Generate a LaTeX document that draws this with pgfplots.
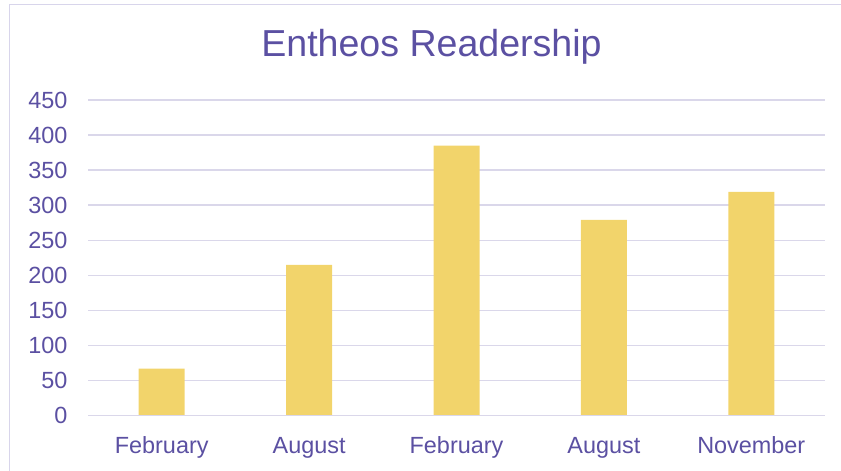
\documentclass[border=0pt]{standalone}
\usepackage{pgfplots}
\pgfplotsset{compat=1.18}
\usepackage{fontspec}
\setmainfont{Liberation Sans}
\definecolor{txt}{HTML}{5B50A2}
\definecolor{gridc}{HTML}{DAD7EA}
\definecolor{barc}{HTML}{F2D46B}
\definecolor{bord}{HTML}{D8D5EB}
\begin{document}
\begin{tikzpicture}[x=1bp,y=1bp]
\path[use as bounding box] (0,0) rectangle (841,471);
\draw[bord,line width=1.5bp] (9.5,0) -- (9.5,466.5) -- (841,466.5);
\begin{axis}[
  at={(88bp,55.5bp)}, anchor=south west,
  scale only axis, width=737bp, height=315.5bp,
  xmin=-0.5, xmax=4.5, ymin=0, ymax=450,
  ytick={0,50,...,450},
  xtick=data,
  xticklabels={February,August,February,August,November},
  axis line style={draw=none},
  axis x line*=bottom,
  tick style={draw=none},
  ymajorgrids, grid style={gridc,line width=1.4bp},
  ybar, bar width=46bp,
  /pgf/number format/assume math mode=true,
  ticklabel style={font=\fontsize{23.5}{26}\selectfont, text=txt},
  yticklabel style={xshift=-17bp},
  xticklabel style={yshift=-13bp, text height=17bp, text depth=5bp},
  title={Entheos Readership},
  title style={font=\fontsize{37.7}{42}\selectfont, text=txt, at={(0.5,1)}, xshift=-25bp, yshift=26bp},
  clip=false,
]
\addplot[fill=barc, draw=none] coordinates {(0,67) (1,215) (2,385) (3,279) (4,319)};
\draw[gridc,line width=1.4bp] (axis cs:-0.5,0) -- (axis cs:4.5,0);
\end{axis}
\end{tikzpicture}
\end{document}
